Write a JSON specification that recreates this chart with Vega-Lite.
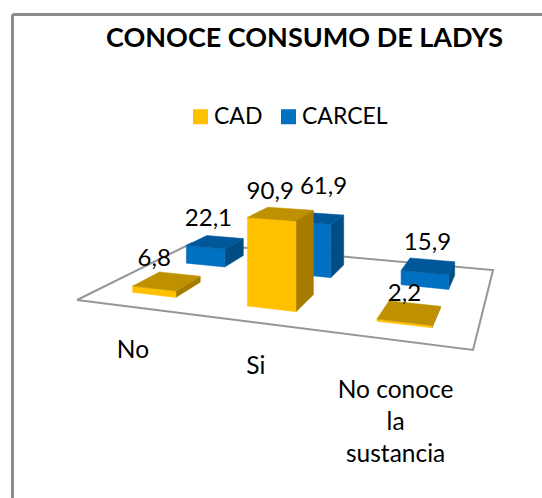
{
"$schema":"https://vega.github.io/schema/vega-lite/v6.json",
"width":530,"height":484,
"autosize":"none",
"padding":{"left":12,"top":14,"right":0,"bottom":0},
"background":"white",
"config":{"view":{"stroke":null},"font":"Lato"},
"title":{"text":"CONOCE CONSUMO DE LADYS","font":"Lato","fontSize":27,"fontWeight":"bold","color":"#000000","anchor":"start","frame":"group","offset":-39,"dx":94},
"datasets":{
"barras":[
{"categoria":"No","serie":"CARCEL","valor":22.1},
{"categoria":"Si","serie":"CARCEL","valor":61.9},
{"categoria":"No conoce la sustancia","serie":"CARCEL","valor":15.9},
{"categoria":"No","serie":"CAD","valor":6.8},
{"categoria":"Si","serie":"CAD","valor":90.9},
{"categoria":"No conoce la sustancia","serie":"CAD","valor":2.2}
],
"suelo":[{"esquina":0},{"esquina":1},{"esquina":2},{"esquina":3},{"esquina":4}]
},
"encoding":{
"x":{"field":"px","type":"quantitative","title":null,"scale":{"domain":[12,542],"nice":false,"zero":false},"axis":{"orient":"top","domain":true,"domainColor":"#8c8c8c","domainWidth":3,"ticks":false,"labels":false,"grid":false,"title":null}},
"y":{"field":"py","type":"quantitative","title":null,"scale":{"domain":[498,14],"nice":false,"zero":false},"axis":{"orient":"left","domain":true,"domainColor":"#8c8c8c","domainWidth":3,"ticks":false,"labels":false,"grid":false,"title":null}}
},
"layer":[
{
"data":{"name":"suelo"},
"transform":[
{"calculate":"[0,1,1,0,0][datum.esquina]","as":"u"},
{"calculate":"[0,0,1,1,0][datum.esquina]","as":"v"},
{"calculate":"-0.177*datum.u+0.3274*datum.v+1","as":"w"},
{"calculate":"(312.3*datum.u+177.9*datum.v+77)/datum.w","as":"px"},
{"calculate":"(-11.95*datum.u+22.6*datum.v+300)/datum.w","as":"py"}
],
"mark":{"type":"line","stroke":"#969696","strokeWidth":2,"strokeJoin":"miter"},
"encoding":{"order":{"field":"esquina","type":"ordinal"}}
},
{
"data":{"name":"barras"},
"transform":[
{"calculate":"(indexof(['No','Si','No conoce la sustancia'],datum.categoria)+0.5)/3","as":"uc"},
{"calculate":"datum.serie==='CAD'?0.27:0.745","as":"vc"},
{"calculate":"['lado','frente','tapa']","as":"cara"},
{"flatten":["cara"]},
{"calculate":"[0,1,2,3]","as":"esquina"},
{"flatten":["esquina"]},
{"calculate":"datum.cara==='lado'?1:[-1,1,1,-1][datum.esquina]","as":"su"},
{"calculate":"datum.cara==='frente'?-1:(datum.cara==='lado'?[-1,1,1,-1][datum.esquina]:[-1,-1,1,1][datum.esquina])","as":"sv"},
{"calculate":"datum.cara==='tapa'?1:[0,0,1,1][datum.esquina]","as":"sz"},
{"calculate":"datum.uc+datum.su*0.065","as":"u"},
{"calculate":"datum.vc+datum.sv*0.11","as":"v"},
{"calculate":"-0.177*datum.u+0.3274*datum.v+1","as":"w"},
{"calculate":"(312.3*datum.u+177.9*datum.v+77)/datum.w","as":"px"},
{"calculate":"(-11.95*datum.u+22.6*datum.v+300)/datum.w-datum.sz*0.95*datum.valor/datum.w","as":"py"},
{"calculate":"datum.cara==='frente'?datum.serie:datum.serie+' '+datum.cara","as":"tono"},
{"calculate":"datum.categoria+datum.serie+datum.cara","as":"pieza"}
],
"mark":{"type":"line","strokeWidth":0.5,"interpolate":"linear-closed"},
"encoding":{
"detail":{"field":"pieza"},
"order":{"field":"esquina","type":"ordinal"},
"fill":{"field":"tono","type":"nominal","sort":null,"scale":{"domain":["CAD","CARCEL","CAD tapa","CAD lado","CARCEL tapa","CARCEL lado"],"range":["#FFC000","#0070C0","#BF9000","#A67C00","#00589B","#004C85"]},
"legend":{"values":["CAD","CARCEL"],"title":null,"orient":"none","legendX":177,"legendY":91,"direction":"horizontal","symbolType":"square","symbolSize":225,"symbolStrokeWidth":0,"labelFont":"Lato","labelFontSize":23,"labelColor":"#000000","columnPadding":14,"labelOffset":2}},
"stroke":{"field":"tono","type":"nominal","legend":null,"scale":{"domain":["CAD","CARCEL","CAD tapa","CAD lado","CARCEL tapa","CARCEL lado"],"range":["#FFC000","#0070C0","#BF9000","#A67C00","#00589B","#004C85"]}}
}
},
{
"data":{"name":"barras"},
"transform":[
{"calculate":"(indexof(['No','Si','No conoce la sustancia'],datum.categoria)+0.5)/3","as":"u"},
{"calculate":"datum.serie==='CAD'?0.27:0.745","as":"v"},
{"calculate":"-0.177*datum.u+0.3274*datum.v+1","as":"w"},
{"calculate":"datum.categoria+'|'+datum.serie","as":"clave"},
{"calculate":"(312.3*datum.u+177.9*datum.v+77)/datum.w+{'No|CAD':-13,'No|CARCEL':-7,'Si|CAD':-11,'Si|CARCEL':7,'No conoce la sustancia|CAD':-5,'No conoce la sustancia|CARCEL':-1}[datum.clave]","as":"px"},
{"calculate":"(-11.95*datum.u+22.6*datum.v+300)/datum.w-0.95*datum.valor/datum.w+{'No|CAD':-22,'No|CARCEL':-23,'Si|CAD':-22,'Si|CARCEL':-31,'No conoce la sustancia|CAD':-19,'No conoce la sustancia|CARCEL':-23}[datum.clave]","as":"py"},
{"calculate":"replace(format(datum.valor,'.1f'),'.',',')","as":"rotulo"}
],
"mark":{"type":"text","font":"Lato","fontSize":24,"color":"#000000","align":"center","baseline":"middle"},
"encoding":{"text":{"field":"rotulo","type":"nominal"}}
},
{
"data":{"name":"barras"},
"transform":[
{"filter":"datum.serie==='CAD'"},
{"calculate":"(indexof(['No','Si','No conoce la sustancia'],datum.categoria)+0.5)/3","as":"u"},
{"calculate":"-0.177*datum.u+1","as":"w"},
{"calculate":"(312.3*datum.u+77)/datum.w","as":"px"},
{"calculate":"(-11.95*datum.u+300)/datum.w+(datum.categoria==='No conoce la sustancia'?51:44)","as":"py"},
{"calculate":"datum.categoria==='No conoce la sustancia'?'No conoce\\nla\\nsustancia':datum.categoria","as":"rotulo"}
],
"mark":{"type":"text","font":"Lato","fontSize":24.5,"color":"#000000","align":"center","baseline":"middle","lineBreak":"\n","lineHeight":32},
"encoding":{"text":{"field":"rotulo","type":"nominal"}}
},
{
"data":{"values":[{}]},
"mark":{"type":"rule","stroke":"#c4c4c4","strokeWidth":2,"clip":false},
"encoding":{"x":{"datum":1},"y":{"datum":14},"y2":{"datum":498}}
}
]
}
